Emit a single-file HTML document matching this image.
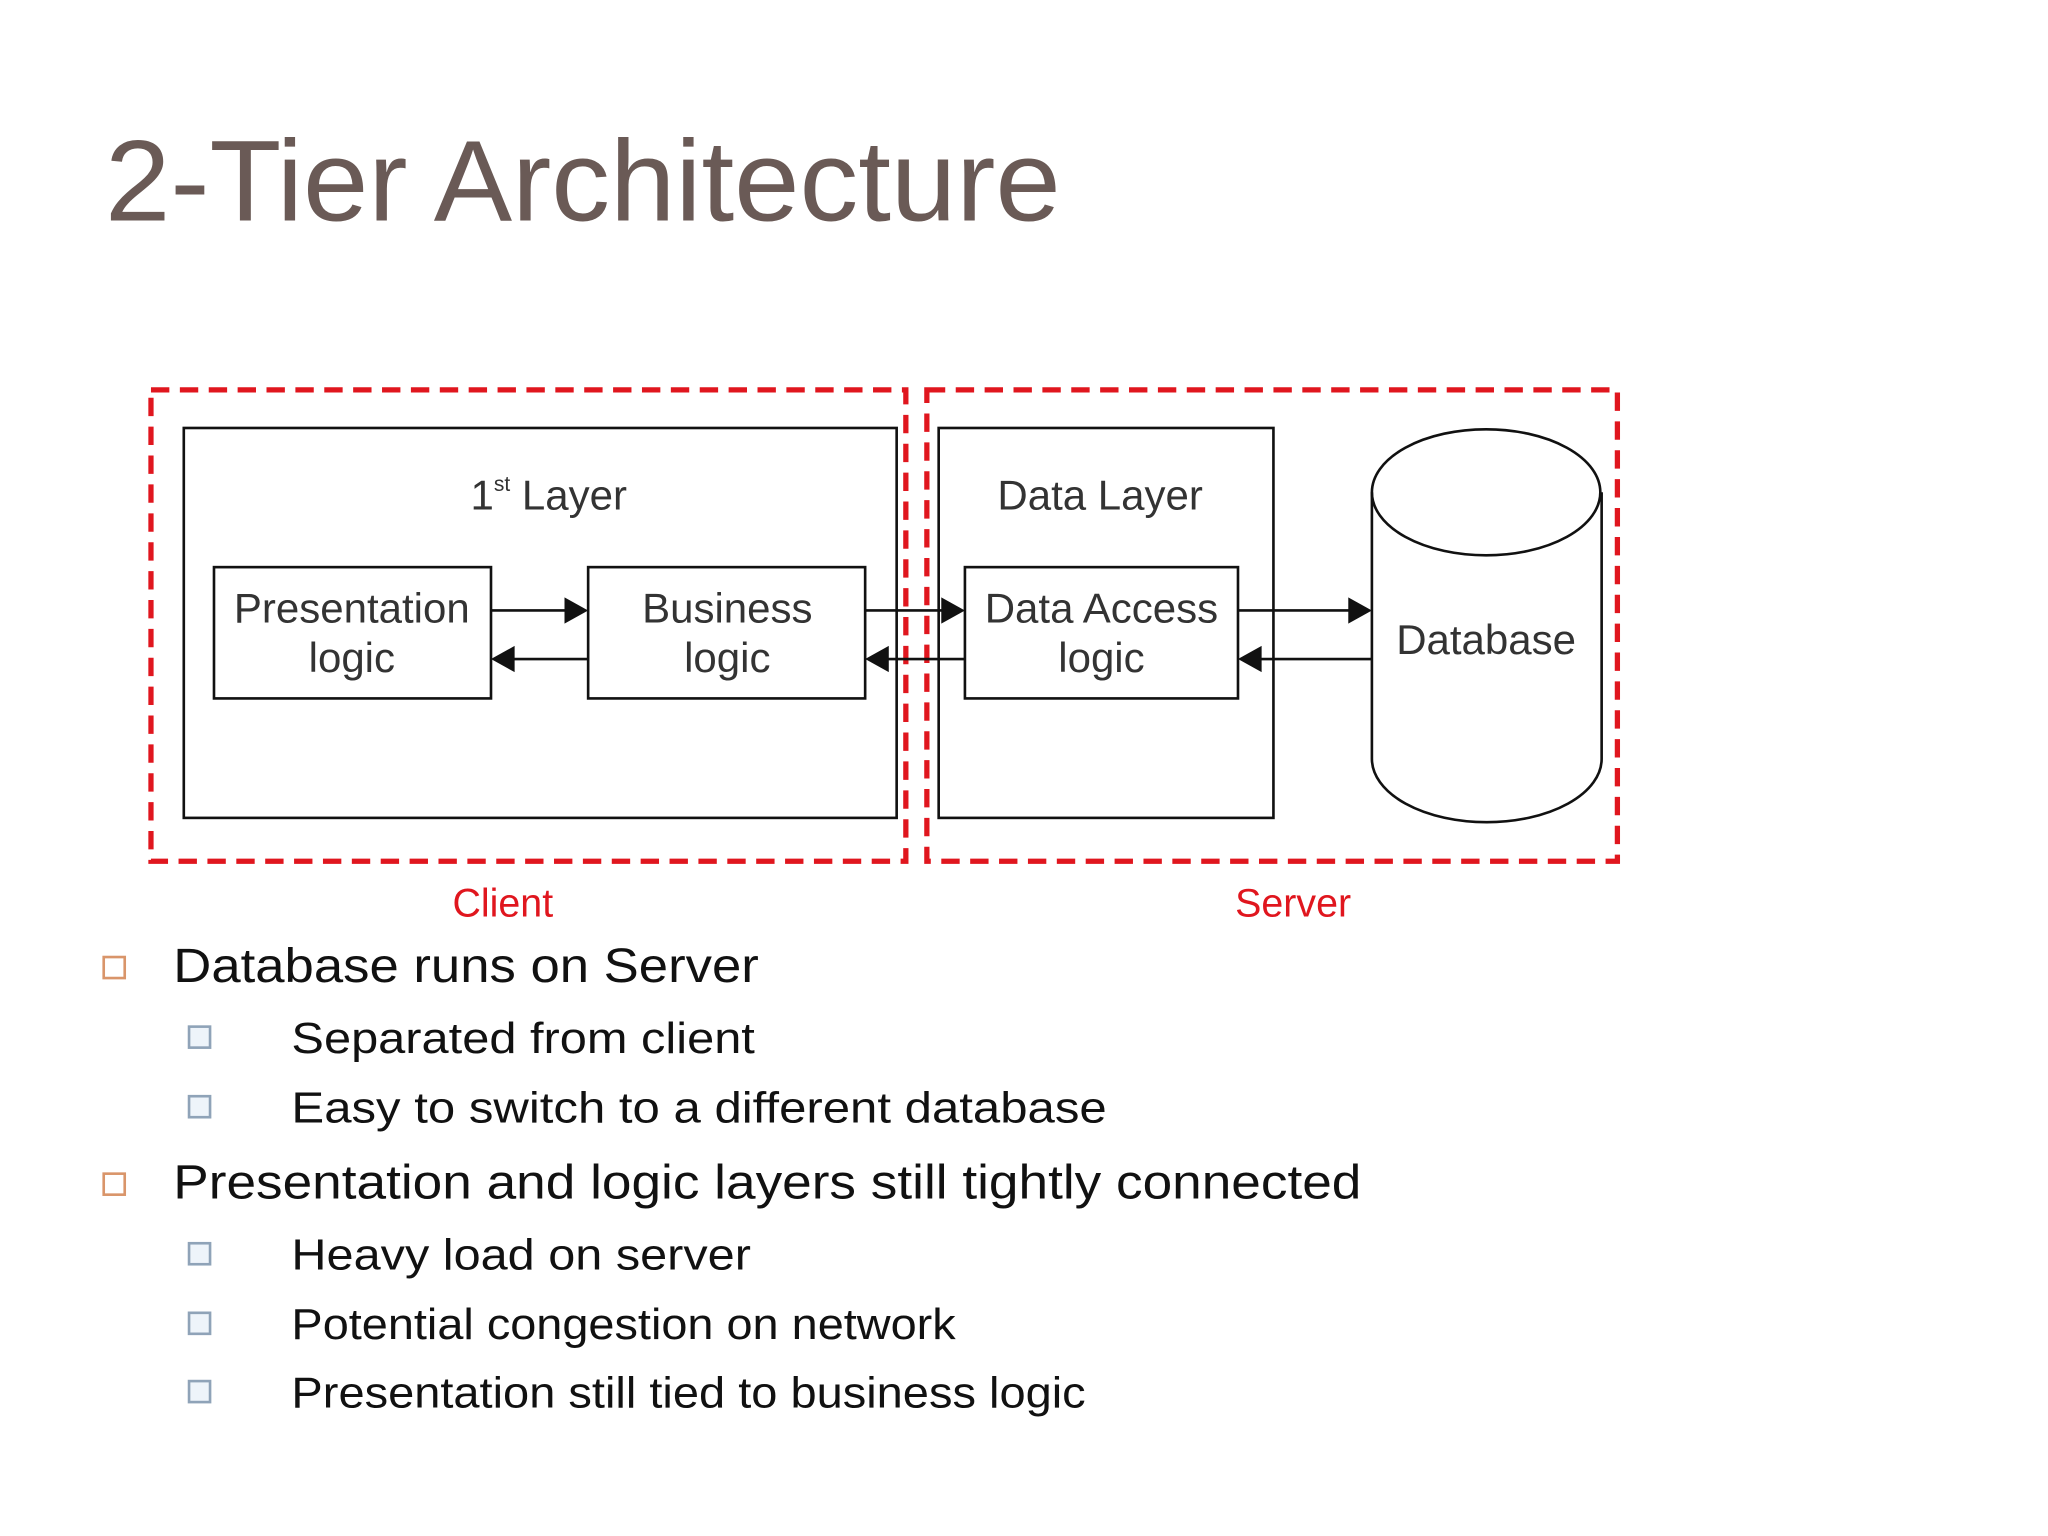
<!DOCTYPE html>
<html><head><meta charset="utf-8"><style>html,body{margin:0;padding:0;background:#fff;}svg{display:block}</style></head>
<body>
<svg width="2048" height="1536" viewBox="0 0 1560 1170" xmlns="http://www.w3.org/2000/svg" font-family="Liberation Sans, sans-serif">
<rect width="1560" height="1170" fill="#fff"/>
<text x="80" y="168" font-size="88" fill="#6a5a56" textLength="728" lengthAdjust="spacingAndGlyphs">2-Tier Architecture</text>

<g fill="none" stroke="#e0161e" stroke-width="4" stroke-dasharray="14 8">
<rect x="115" y="297" width="575" height="359"/>
<rect x="706" y="297" width="526" height="359"/>
</g>
<g fill="none" stroke="#111" stroke-width="2">
<rect x="140" y="326" width="543" height="297"/>
<rect x="715" y="326" width="255" height="297"/>
<rect x="163" y="432" width="211" height="100"/>
<rect x="448" y="432" width="211" height="100"/>
<rect x="735" y="432" width="208" height="100"/>
<path d="M374 465H434M448 502H388M659 465H721M735 502H673M943 465H1031M1045 502H957"/>
<path d="M1045 375V578A87 48 0 0 0 1220 578V375"/>
<ellipse cx="1132" cy="375" rx="87" ry="48"/>
</g>
<g fill="#111">
<path d="M448 465L430 455V475Z"/><path d="M374 502L392 492V512Z"/>
<path d="M735 465L717 455V475Z"/><path d="M659 502L677 492V512Z"/>
<path d="M1045 465L1027 455V475Z"/><path d="M943 502L961 492V512Z"/>
</g>
<g fill="#333" font-size="32" text-anchor="middle">
<text x="418" y="388">1<tspan font-size="16" dy="-14">st</tspan><tspan dy="14"> Layer</tspan></text>
<text x="838" y="388">Data Layer</text>
<text x="268" y="474">Presentation</text><text x="268" y="512">logic</text>
<text x="554" y="474">Business</text><text x="554" y="512">logic</text>
<text x="839" y="474">Data Access</text><text x="839" y="512">logic</text>
<text x="1132" y="498">Database</text>
</g>
<g fill="#e0161e" font-size="30" text-anchor="middle">
<text x="383" y="698">Client</text>
<text x="985" y="698">Server</text>
</g>

<g fill="none" stroke="#d9956a" stroke-width="2">
<rect x="79" y="729" width="16" height="16"/>
<rect x="79" y="894" width="16" height="16"/>
</g>
<g fill="#eef4fa" stroke="#8fa3b8" stroke-width="2">
<rect x="144" y="782" width="16" height="16"/>
<rect x="144" y="835" width="16" height="16"/>
<rect x="144" y="947" width="16" height="16"/>
<rect x="144" y="1000" width="16" height="16"/>
<rect x="144" y="1052" width="16" height="16"/>
</g>
<g fill="#111">
<text x="132" y="748" font-size="37" textLength="446" lengthAdjust="spacingAndGlyphs">Database runs on Server</text>
<text x="132" y="913" font-size="37" textLength="905" lengthAdjust="spacingAndGlyphs">Presentation and logic layers still tightly connected</text>
<g font-size="33">
<text x="222" y="802" textLength="353" lengthAdjust="spacingAndGlyphs">Separated from client</text>
<text x="222" y="855" textLength="621" lengthAdjust="spacingAndGlyphs">Easy to switch to a different database</text>
<text x="222" y="967" textLength="350" lengthAdjust="spacingAndGlyphs">Heavy load on server</text>
<text x="222" y="1020" textLength="506" lengthAdjust="spacingAndGlyphs">Potential congestion on network</text>
<text x="222" y="1072" textLength="605" lengthAdjust="spacingAndGlyphs">Presentation still tied to business logic</text>
</g>
</g>
</svg>
</body></html>
